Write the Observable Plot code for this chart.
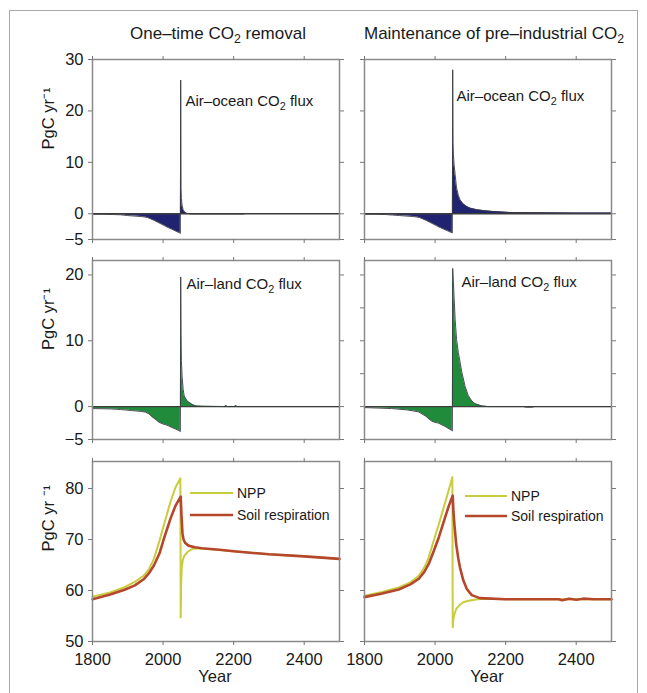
<!DOCTYPE html>
<html><head><meta charset="utf-8">
<script src="https://cdn.jsdelivr.net/npm/d3@7"></script>
<script src="https://cdn.jsdelivr.net/npm/@observablehq/plot@0.6"></script>
<style>
body{margin:0;background:#fff;}
#fig{position:relative;width:647px;height:693px;background:#fff;font-family:"Liberation Sans",Arial,Helvetica,sans-serif;overflow:hidden}
#frame{position:absolute;left:9px;top:10px;width:629px;height:700px;border:1px solid #a8a8a8;box-sizing:border-box}
.title{position:absolute;font-size:17px;line-height:1;color:#1a1a1a;white-space:nowrap;transform:translateX(-50%)}
.title sub{font-size:0.72em;vertical-align:-0.3em;line-height:0}
</style></head><body><div id="fig"><div id="frame"></div></div>
<script>
// ---------- data ----------
const columnTitles = ["One–time CO2 removal", "Maintenance of pre–industrial CO2"];
const fluxLabels = ["Air–ocean CO2 flux", "Air–land CO2 flux"];
const legendLabels = ["NPP", "Soil respiration"];
const yLabelFlux = "PgC yr⁻¹";
const yLabelBio = "PgC yr ⁻¹";
const xLabel = "Year";

const xTicks = [1800, 2000, 2200, 2400];
const oceanTicks = [-5, 0, 10, 20, 30];
const landTicks = [-5, 0, 10, 20];
const landTicksMaint = [-5, 0, 5, 10, 15, 20];
const bioTicks = [50, 60, 70, 80];

// Air-ocean flux, one-time removal
const oceanOneYear = [1800,1830,1860,1880,1900,1920,1940,1955,1965,1975,1985,1995,2005,2015,2025,2035,2045,2049,2050,2051,2052,2054,2057,2060,2066,2080,2120,2180,2230];
const oceanOneFlux = [-0.1,-0.1,-0.15,-0.2,-0.35,-0.45,-0.55,-0.7,-1.0,-1.3,-1.65,-2.0,-2.35,-2.7,-3.0,-3.35,-3.65,-3.8,26,5,3,1.6,0.8,0.4,0.1,-0.05,-0.05,-0.05,-0.05];
// Air-ocean flux, maintenance
const oceanMaintYear = [1800,1830,1860,1880,1900,1920,1940,1955,1965,1975,1985,1995,2005,2015,2025,2035,2045,2049,2050,2051,2052,2054,2057,2061,2066,2071,2080,2090,2100,2118,2140,2165,2212,2300,2400,2500];
const oceanMaintFlux = [-0.1,-0.1,-0.15,-0.25,-0.35,-0.45,-0.55,-0.7,-1.0,-1.3,-1.65,-2.0,-2.35,-2.7,-3.0,-3.3,-3.6,-3.7,28,14,11.5,9.5,7.6,5.0,3.6,2.7,1.9,1.4,1.1,0.8,0.6,0.45,0.25,0.2,0.15,0.15];
// Air-land flux, one-time removal
const landOneYear = [1800,1850,1880,1910,1940,1950,1960,1970,1980,1989,2000,2007,2015,2026,2035,2045,2049,2050,2051,2052,2054,2057,2060,2069,2083,2093,2110,2175,2178,2182,2203,2206,2210,2500];
const landOneFlux = [-0.3,-0.35,-0.45,-0.6,-0.75,-0.85,-1.1,-1.6,-2.0,-2.4,-2.65,-2.75,-2.9,-3.2,-3.4,-3.65,-3.8,19.7,11,7,4.5,2.6,1.6,0.8,0.3,0.1,0.05,0,0.15,0,0,0.15,0,0];
// Air-land flux, maintenance
const landMaintYear = [1800,1877,1920,1953,1972,1990,2000,2009,2020,2028,2040,2047,2049,2050,2052,2057,2061,2066,2076,2085,2094,2104,2113,2132,2150,2250,2258,2275,2282,2500];
const landMaintFlux = [-0.15,-0.3,-0.5,-0.8,-1.4,-2.2,-2.4,-2.5,-2.8,-3.0,-3.4,-3.6,-3.7,21,18.8,13.2,10.2,8.2,5.2,3.1,1.7,0.86,0.45,0.1,0,0,-0.1,-0.1,0,0];
// NPP and soil respiration, one-time removal
const nppOneYear = [1800,1850,1889,1920,1945,1960,1974,1990,2002,2021,2035,2049,2050,2051,2053,2056,2060,2070,2085,2100,2150,2200,2300,2400,2500];
const nppOneVal = [58.8,59.6,60.6,61.7,62.9,64.2,66.2,69.8,72.8,77.4,80.2,82.0,54.7,61,64.5,66,66.8,67.6,68.2,68.3,68.0,67.7,67.1,66.7,66.2];
const respOneYear = [1800,1850,1889,1920,1945,1960,1974,1990,2002,2021,2035,2050,2052,2055,2058,2063,2072,2090,2110,2160,2200,2300,2400,2500];
const respOneVal = [58.3,59.2,60.1,61.0,62.2,63.4,64.9,67.3,70.1,74.1,76.6,78.4,75,71.2,70.0,69.3,68.8,68.5,68.3,68.0,67.7,67.1,66.7,66.2];
// NPP and soil respiration, maintenance
const nppMaintYear = [1800,1850,1897,1930,1954,1970,1982,1995,2011,2030,2040,2049,2050,2052,2055,2060,2070,2080,2095,2120,2140,2200,2300,2400,2500];
const nppMaintVal = [59.0,59.7,60.6,61.6,62.9,64.6,66.5,69.5,73.1,77.6,80.0,82.2,52.8,54.5,55.4,56.4,57.2,57.7,58.0,58.3,58.4,58.3,58.3,58.3,58.3];
const respMaintYear = [1800,1850,1897,1930,1954,1970,1982,1995,2011,2030,2040,2050,2052,2055,2060,2066,2071,2080,2090,2104,2127,2200,2350,2360,2380,2400,2420,2450,2500];
const respMaintVal = [58.7,59.4,60.2,61.2,62.3,63.7,65.2,67.5,70.5,74.7,76.8,78.6,75.5,72.8,69.0,66.2,64.4,62.0,60.3,59.1,58.5,58.3,58.3,58.1,58.4,58.2,58.4,58.3,58.3];

// ---------- styling ----------
const FONT = '"Liberation Sans", Arial, Helvetica, sans-serif';
const oceanFill = "#1f2370";
const landFill = "#1f8b3b";
const nppColor = "#c9cc3c";
const respColor = "#b5472b";
const frameColor = "#8a8a8a";
const tickColor = "#777";

const rowsOf = (xs, ys) => xs.map((x, i) => ({year: x, value: ys[i]}));
const fmtY = d => d < 0 ? "−" + Math.abs(d) : String(d);

const FW = 247;
const cols = [{left: 0, ml: 92, mr: 8}, {left: 354, ml: 10, mr: 10}];
const rows = [{top: 59, h: 180, mb: 6}, {top: 260, h: 179, mb: 6}, {top: 461, h: 180, mb: 52}];
const MT = 6;
const fig = document.getElementById("fig");

function fixSub(svg) {
  d3.select(svg).selectAll("text").each(function() {
    const t = this.textContent;
    const i = t.indexOf("CO2");
    if (i < 0) return;
    const s = d3.select(this);
    s.text(null);
    s.append("tspan").text(t.slice(0, i + 2));
    s.append("tspan").attr("dy", 4).attr("font-size", "0.72em").text("2");
    s.append("tspan").attr("dy", -4).text(t.slice(i + 3));
  });
}

function legendMark(dx1, dx2, dys, textDx) {
  return () => {
    const g = d3.create("svg:g").attr("font-size", 14).attr("font-family", FONT).attr("text-anchor", "start");
    const colors = [nppColor, respColor];
    const widths = [2, 2.6];
    legendLabels.forEach((lab, i) => {
      const y = MT + dys[i];
      g.append("line").attr("x1", dx1).attr("x2", dx2).attr("y1", y).attr("y2", y)
        .attr("stroke", colors[i]).attr("stroke-width", widths[i]);
      g.append("text").attr("x", textDx).attr("y", y).attr("dy", "0.35em")
        .attr("text-anchor", "start").attr("fill", "#1a1a1a").text(lab);
    });
    return g.node();
  };
}

function panel(ci, ri, cfg) {
  const c = cols[ci], r = rows[ri];
  const marks = [
    ...cfg.marks,
    Plot.frame({stroke: frameColor, strokeWidth: 1.5}),
    Plot.axisY({ticks: cfg.yTicks, anchor: "left", tickSize: 4, stroke: tickColor, label: null,
      tickFormat: ci === 0 ? fmtY : () => ""}),
    Plot.axisY({ticks: cfg.yTicks, anchor: "right", tickSize: 4, stroke: tickColor, label: null, tickFormat: () => ""}),
    Plot.axisX({ticks: xTicks, anchor: "top", tickSize: 4, stroke: tickColor, label: null, tickFormat: () => ""}),
    Plot.axisX({ticks: xTicks, anchor: "bottom", tickSize: 4, tickPadding: 8, stroke: tickColor, label: null,
      tickFormat: ri === 2 ? d => String(d) : () => ""})
  ];
  if (ci === 0) marks.push(Plot.text([cfg.yLabel], {frameAnchor: "left", dx: -44, rotate: -90, fontSize: 16.5, fill: "#1a1a1a"}));
  if (ri === 2) marks.push(Plot.text([xLabel], {frameAnchor: "bottom", dy: 29, dx: -1, lineAnchor: "top", fontSize: 16.5, fill: "#1a1a1a"}));
  const svg = Plot.plot({
    width: c.ml + FW + c.mr,
    height: MT + r.h + r.mb,
    marginLeft: c.ml, marginRight: c.mr, marginTop: MT, marginBottom: r.mb,
    x: {domain: [1800, 2500], label: null},
    y: {domain: cfg.yDomain, label: null},
    style: {fontFamily: FONT, fontSize: "16.5px", color: "#1a1a1a", background: "transparent", overflow: "visible"},
    marks
  });
  svg.style.position = "absolute";
  svg.style.left = c.left + "px";
  svg.style.top = (r.top - MT) + "px";
  fixSub(svg);
  fig.appendChild(svg);
}

function fluxMarks(data, fill, label, dx, dy) {
  return [
    Plot.areaY(data, {x: "year", y: "value", fill, curve: "linear"}),
    Plot.lineY(data, {x: "year", y: "value", stroke: "#3a3a44", strokeWidth: 0.9}),
    Plot.ruleY([0], {stroke: "#3c3c3c", strokeWidth: 1.4}),
    Plot.text([label], {frameAnchor: "top-left", dx, dy, textAnchor: "start", lineAnchor: "top", fontSize: 15, fill: "#1a1a1a"})
  ];
}

function bioMarks(npp, resp) {
  return [
    Plot.lineY(npp, {x: "year", y: "value", stroke: nppColor, strokeWidth: 2}),
    Plot.lineY(resp, {x: "year", y: "value", stroke: respColor, strokeWidth: 2.6})
  ];
}

// titles
columnTitles.forEach((t, i) => {
  const d = document.createElement("div");
  d.className = "title";
  d.style.left = (i === 0 ? 218 : 494) + "px";
  d.style.top = "25px";
  d.innerHTML = t.replace("CO2", "CO<sub>2</sub>");
  fig.appendChild(d);
});

panel(0, 0, {yDomain: [-5, 30], yTicks: oceanTicks, yLabel: yLabelFlux,
  marks: fluxMarks(rowsOf(oceanOneYear, oceanOneFlux), oceanFill, fluxLabels[0], 93, 36)});
panel(1, 0, {yDomain: [-5, 30], yTicks: oceanTicks,
  marks: fluxMarks(rowsOf(oceanMaintYear, oceanMaintFlux), oceanFill, fluxLabels[0], 92, 31)});
panel(0, 1, {yDomain: [-5, 22.2], yTicks: landTicks, yLabel: yLabelFlux,
  marks: fluxMarks(rowsOf(landOneYear, landOneFlux), landFill, fluxLabels[1], 94, 18)});
panel(1, 1, {yDomain: [-5, 22.2], yTicks: landTicksMaint,
  marks: fluxMarks(rowsOf(landMaintYear, landMaintFlux), landFill, fluxLabels[1], 97, 16)});
panel(0, 2, {yDomain: [50, 85.3], yTicks: bioTicks, yLabel: yLabelBio,
  marks: [...bioMarks(rowsOf(nppOneYear, nppOneVal), rowsOf(respOneYear, respOneVal)), legendMark(92 + 98, 92 + 141, [32, 54], 92 + 145)]});
panel(1, 2, {yDomain: [50, 85.3], yTicks: bioTicks,
  marks: [...bioMarks(rowsOf(nppMaintYear, nppMaintVal), rowsOf(respMaintYear, respMaintVal)), legendMark(10 + 101, 10 + 143, [35, 55], 10 + 147)]});
</script></body></html>
